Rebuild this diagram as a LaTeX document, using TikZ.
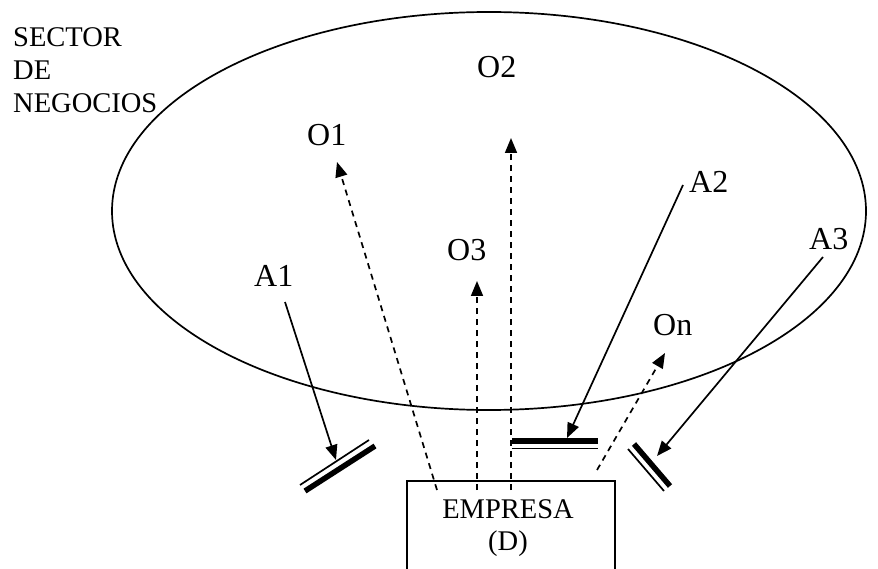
\documentclass[tikz,border=0pt]{standalone}
\usepackage{fontspec}
\setmainfont{Liberation Serif}
\usetikzlibrary{arrows.meta}
\begin{document}
\begin{tikzpicture}[x=1pt,y=-1pt,
  lbl/.style={inner sep=0pt,anchor=base west,font=\fontsize{32}{36}\selectfont},
  seclbl/.style={inner sep=0pt,anchor=base west,font=\fontsize{28.5}{33}\selectfont},
  emplbl/.style={inner sep=0pt,anchor=base,font=\fontsize{28.5}{32}\selectfont},
  ext/.style={-{Triangle[length=15pt,width=12pt]},line width=1.7pt},
  opp/.style={-{Triangle[length=15pt,width=12pt]},line width=1.7pt,dash pattern=on 6pt off 5pt},
  thickbar/.style={line width=5.5pt},
  thinbar/.style={line width=1.7pt}]
\useasboundingbox (0,0) rectangle (878,569);
% ellipse
\draw[line width=1.7pt] (489,211) ellipse [x radius=377, y radius=199];
% sector label
\node[seclbl] (sec1) at (13,47) {SECTOR};
\node[seclbl] (sec2) at (13,80) {DE};
\node[seclbl] (sec3) at (13,113) {NEGOCIOS};
% company box (open at bottom, runs off the page)
\draw[line width=1.7pt] (407,575) -- (407,481) -- (615,481) -- (615,575);
\node[emplbl] (emp1) at (508,518) {EMPRESA};
\node[emplbl] (emp2) at (508,550) {(D)};
% labels
\node[lbl] (o1) at (307,146) {O1};
\node[lbl] (o2) at (477,78) {O2};
\node[lbl] (o3) at (447,261) {O3};
\node[lbl] (on) at (653,335) {On};
\node[lbl] (a1) at (254,287) {A1};
\node[lbl] (a2) at (689,193) {A2};
\node[lbl] (a3) at (809,250) {A3};
% coordinates
\coordinate (o1s) at (437,490); \coordinate (o1e) at (337,162);
\coordinate (o3s) at (477,490); \coordinate (o3e) at (477,281);
\coordinate (o2s) at (511,490); \coordinate (o2e) at (511,138);
\coordinate (ons) at (597,470); \coordinate (one) at (665,353);
\coordinate (a1s) at (285,302); \coordinate (a1e) at (336,460);
\coordinate (a2s) at (683,185); \coordinate (a2e) at (567,438);
\coordinate (a3s) at (823,257); \coordinate (a3e) at (657,456);
% opportunities
\draw[opp] (o1s) -- (o1e);
\draw[opp] (o3s) -- (o3e);
\draw[opp] (o2s) -- (o2e);
\draw[opp] (ons) -- (one);
% barriers
\draw[thinbar] (300,485) -- (369,440);
\draw[thickbar] (305,491) -- (375,446);
\draw[thickbar] (512,441) -- (598,441);
\draw[thinbar] (512,448.5) -- (598,448.5);
\draw[thickbar] (634,444) -- (670,486);
\draw[thinbar] (628,449) -- (664,491);
% threats
\draw[ext] (a1s) -- (a1e);
\draw[ext] (a2s) -- (a2e);
\draw[ext] (a3s) -- (a3e);
\end{tikzpicture}
\end{document}
